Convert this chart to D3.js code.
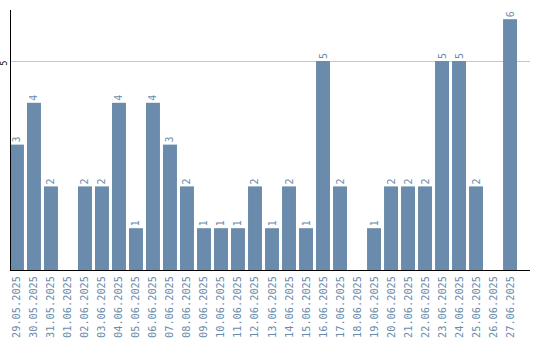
<!DOCTYPE html>
<html>
<head>
<meta charset="utf-8">
<script src="https://cdn.jsdelivr.net/npm/d3@7"></script>
<style>
  body { margin: 0; background: #fff; }
  text { font-family: "DejaVu Sans Mono", monospace; }
</style>
</head>
<body>
<div id="chart"></div>
<script>
const width = 540, height = 340;
const margin = { top: 10, right: 10, bottom: 70, left: 10 };

const dates = ['29.05.2025', '30.05.2025', '31.05.2025', '01.06.2025', '02.06.2025', '03.06.2025',
    '04.06.2025', '05.06.2025', '06.06.2025', '07.06.2025', '08.06.2025', '09.06.2025',
    '10.06.2025', '11.06.2025', '12.06.2025', '13.06.2025', '14.06.2025', '15.06.2025',
    '16.06.2025', '17.06.2025', '18.06.2025', '19.06.2025', '20.06.2025', '21.06.2025',
    '22.06.2025', '23.06.2025', '24.06.2025', '25.06.2025', '26.06.2025', '27.06.2025'];
const counts = [3, 4, 2, 0, 2, 2, 4, 1, 4, 3, 2, 1, 1, 1, 2, 1, 2, 1, 5, 2, 0, 1, 2, 2, 2, 5, 5, 2, 0, 6];
const yTicks = [5];
const yMax = 6.22;

const barColor = '#6a8bab';

const svg = d3.select('#chart').append('svg')
    .attr('width', width)
    .attr('height', height);

const x = d3.scaleBand()
    .domain(dates)
    .range([margin.left, 517])
    .paddingInner(0.18)
    .paddingOuter(0);

const y = d3.scaleLinear()
    .domain([0, yMax])
    .range([height - margin.bottom, margin.top]);

// grid
svg.selectAll('line.grid')
    .data(yTicks)
    .enter()
    .append('line')
    .attr('class', 'grid')
    .attr('x1', margin.left)
    .attr('x2', width - margin.right)
    .attr('y1', d => Math.round(y(d)) + 0.5)
    .attr('y2', d => Math.round(y(d)) + 0.5)
    .attr('stroke', '#c8c8c8');

// bars
svg.selectAll('rect.bar')
    .data(counts)
    .enter()
    .append('rect')
    .attr('class', 'bar')
    .attr('x', (d, i) => x(dates[i]))
    .attr('y', d => y(d))
    .attr('width', x.bandwidth())
    .attr('height', d => y(0) - y(d))
    .attr('fill', barColor);

// value labels
svg.selectAll('text.val')
    .data(counts.map((v, i) => ({ v, date: dates[i] })).filter(d => d.v > 0))
    .enter()
    .append('text')
    .attr('class', 'val')
    .attr('transform', d => `translate(${x(d.date) + x.bandwidth() / 2 + 3.5},${y(d.v) - 2}) rotate(-90)`)
    .attr('font-size', 10)
    .attr('fill', barColor)
    .text(d => d.v);

// x axis
svg.append('line')
    .attr('x1', margin.left)
    .attr('x2', width - margin.right)
    .attr('y1', y(0) + 0.5)
    .attr('y2', y(0) + 0.5)
    .attr('stroke', '#000');

svg.selectAll('text.xlab')
    .data(dates)
    .enter()
    .append('text')
    .attr('class', 'xlab')
    .attr('transform', d => `translate(${x(d) + x.bandwidth() / 2 + 3.5},${y(0) + 6}) rotate(-90)`)
    .attr('text-anchor', 'end')
    .attr('font-size', 10.3)
    .attr('fill', barColor)
    .text(d => d);

// y axis
svg.append('line')
    .attr('x1', margin.left + 0.5)
    .attr('x2', margin.left + 0.5)
    .attr('y1', margin.top)
    .attr('y2', y(0))
    .attr('stroke', '#000');

svg.selectAll('text.ylab')
    .data(yTicks)
    .enter()
    .append('text')
    .attr('class', 'ylab')
    .attr('transform', d => `translate(7,${y(d) + 2}) rotate(-90)`)
    .attr('text-anchor', 'middle')
    .attr('font-size', 8)
    .attr('fill', '#000')
    .text(d => d);
</script>
</body>
</html>
